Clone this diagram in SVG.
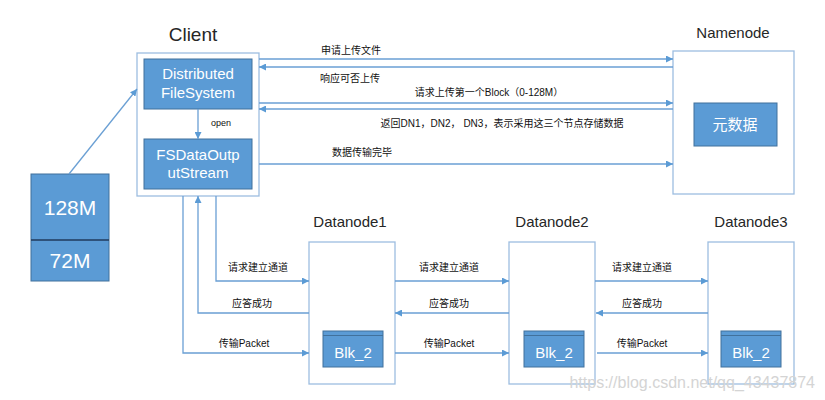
<svg xmlns="http://www.w3.org/2000/svg" width="825" height="400" viewBox="0 0 825 400">
<defs>
<marker id="ah" viewBox="0 0 10 10" refX="10" refY="5" markerWidth="7" markerHeight="7" markerUnits="userSpaceOnUse" orient="auto">
<path d="M0,0 L10,5 L0,10 z" fill="#5B9BD5"/>
</marker>
<style>
text{font-family:"Liberation Sans","Noto Sans CJK SC",sans-serif;}
.title{font-size:15px;fill:#262626;text-anchor:middle;}
.outer{fill:#ffffff;stroke:#9DBDE0;stroke-width:1.3;}
.blue{fill:#5B9BD5;stroke:#41719C;stroke-width:1;}
.wt{fill:#ffffff;text-anchor:middle;font-size:15px;}
.lbl{font-size:10px;fill:#111;text-anchor:middle;}
.conn{fill:none;stroke:#6A9FD4;stroke-width:1.3;marker-end:url(#ah);}
.plain{fill:none;stroke:#6A9FD4;stroke-width:1.3;}
</style>
</defs>
<rect width="825" height="400" fill="#ffffff"/>

<g id="block-file">
<rect x="31" y="174" width="78" height="107" class="blue"/>
<line x1="31" y1="240" x2="109" y2="240" stroke="#1F3A5C" stroke-width="1.5"/>
<text x="70" y="215" class="wt" style="font-size:21px">128M</text>
<text x="70" y="268" class="wt" style="font-size:21px">72M</text>
</g>

<g id="client">
<text x="193" y="41" class="title" style="font-size:19px">Client</text>
<rect x="137" y="53" width="122" height="143" class="outer"/>
<g id="dfs">
<rect x="144" y="59" width="108" height="50" class="blue"/>
<text x="198" y="79" class="wt">Distributed</text>
<text x="198" y="98" class="wt">FileSystem</text>
</g>
<g id="fsdos">
<rect x="144" y="139" width="108" height="50" class="blue"/>
<text x="198" y="160" class="wt">FSDataOutp</text>
<text x="198" y="178" class="wt">utStream</text>
</g>
</g>

<g id="namenode">
<text x="733" y="38" class="title">Namenode</text>
<rect x="673" y="51" width="121" height="143" class="outer"/>
<rect x="694" y="103" width="83" height="43" class="blue"/>
<text x="735" y="130" class="wt">元数据</text>
</g>

<g id="datanode1">
<text x="350" y="227" class="title">Datanode1</text>
<rect x="309" y="242" width="86" height="142" class="outer"/>
<rect x="323" y="331" width="60" height="36" class="blue"/>
<line x1="323" y1="335.5" x2="383" y2="335.5" stroke="#41719C" stroke-width="1"/>
<text x="353" y="358" class="wt">Blk_2</text>
</g>

<g id="datanode2">
<text x="552" y="227" class="title">Datanode2</text>
<rect x="509" y="242" width="86" height="142" class="outer"/>
<rect x="524" y="331" width="60" height="36" class="blue"/>
<line x1="524" y1="335.5" x2="584" y2="335.5" stroke="#41719C" stroke-width="1"/>
<text x="554" y="358" class="wt">Blk_2</text>
</g>

<g id="datanode3">
<text x="751" y="227" class="title">Datanode3</text>
<rect x="708" y="242" width="86" height="142" class="outer"/>
<rect x="721" y="331" width="60" height="36" class="blue"/>
<line x1="721" y1="335.5" x2="781" y2="335.5" stroke="#41719C" stroke-width="1"/>
<text x="751" y="358" class="wt">Blk_2</text>
</g>

<g id="connectors">
<line x1="69" y1="174" x2="137" y2="89" class="conn"/>
<line x1="198" y1="109" x2="198" y2="139" class="conn"/>
<text x="221" y="126" class="lbl" style="font-size:9px">open</text>

<line x1="259" y1="59" x2="673" y2="59" class="conn"/>
<text x="351" y="54" class="lbl">申请上传文件</text>
<line x1="673" y1="67" x2="259" y2="67" class="conn"/>
<text x="350" y="82" class="lbl">响应可否上传</text>
<line x1="259" y1="103" x2="673" y2="103" class="conn"/>
<text x="489" y="96" class="lbl">请求上传第一个Block（0-128M）</text>
<line x1="673" y1="109" x2="259" y2="109" class="conn"/>
<text x="502" y="127" class="lbl">返回DN1，DN2， DN3，表示采用这三个节点存储数据</text>
<line x1="259" y1="164" x2="673" y2="164" class="conn"/>
<text x="362" y="156" class="lbl">数据传输完毕</text>

<polyline points="216,196 216,281 309,281" class="conn"/>
<text x="258" y="271" class="lbl">请求建立通道</text>
<polyline points="309,313 198,313 198,196" class="conn"/>
<text x="252" y="307" class="lbl">应答成功</text>
<polyline points="183,196 183,353 309,353" class="conn"/>
<text x="244" y="347" class="lbl">传输Packet</text>

<line x1="395" y1="281" x2="509" y2="281" class="conn"/>
<text x="449" y="271" class="lbl">请求建立通道</text>
<line x1="509" y1="313" x2="395" y2="313" class="conn"/>
<text x="449" y="307" class="lbl">应答成功</text>
<line x1="395" y1="353" x2="509" y2="353" class="conn"/>
<text x="449" y="347" class="lbl">传输Packet</text>

<line x1="595" y1="281" x2="708" y2="281" class="conn"/>
<text x="642" y="271" class="lbl">请求建立通道</text>
<line x1="708" y1="313" x2="596" y2="313" class="conn"/>
<text x="642" y="307" class="lbl">应答成功</text>
<line x1="597" y1="353" x2="708" y2="353" class="conn"/>
<text x="642" y="347" class="lbl">传输Packet</text>
</g>

<text x="815" y="388" style="font-size:16px;fill:#d4d4d4;text-anchor:end">https://blog.csdn.net/qq_43437874</text>
</svg>
